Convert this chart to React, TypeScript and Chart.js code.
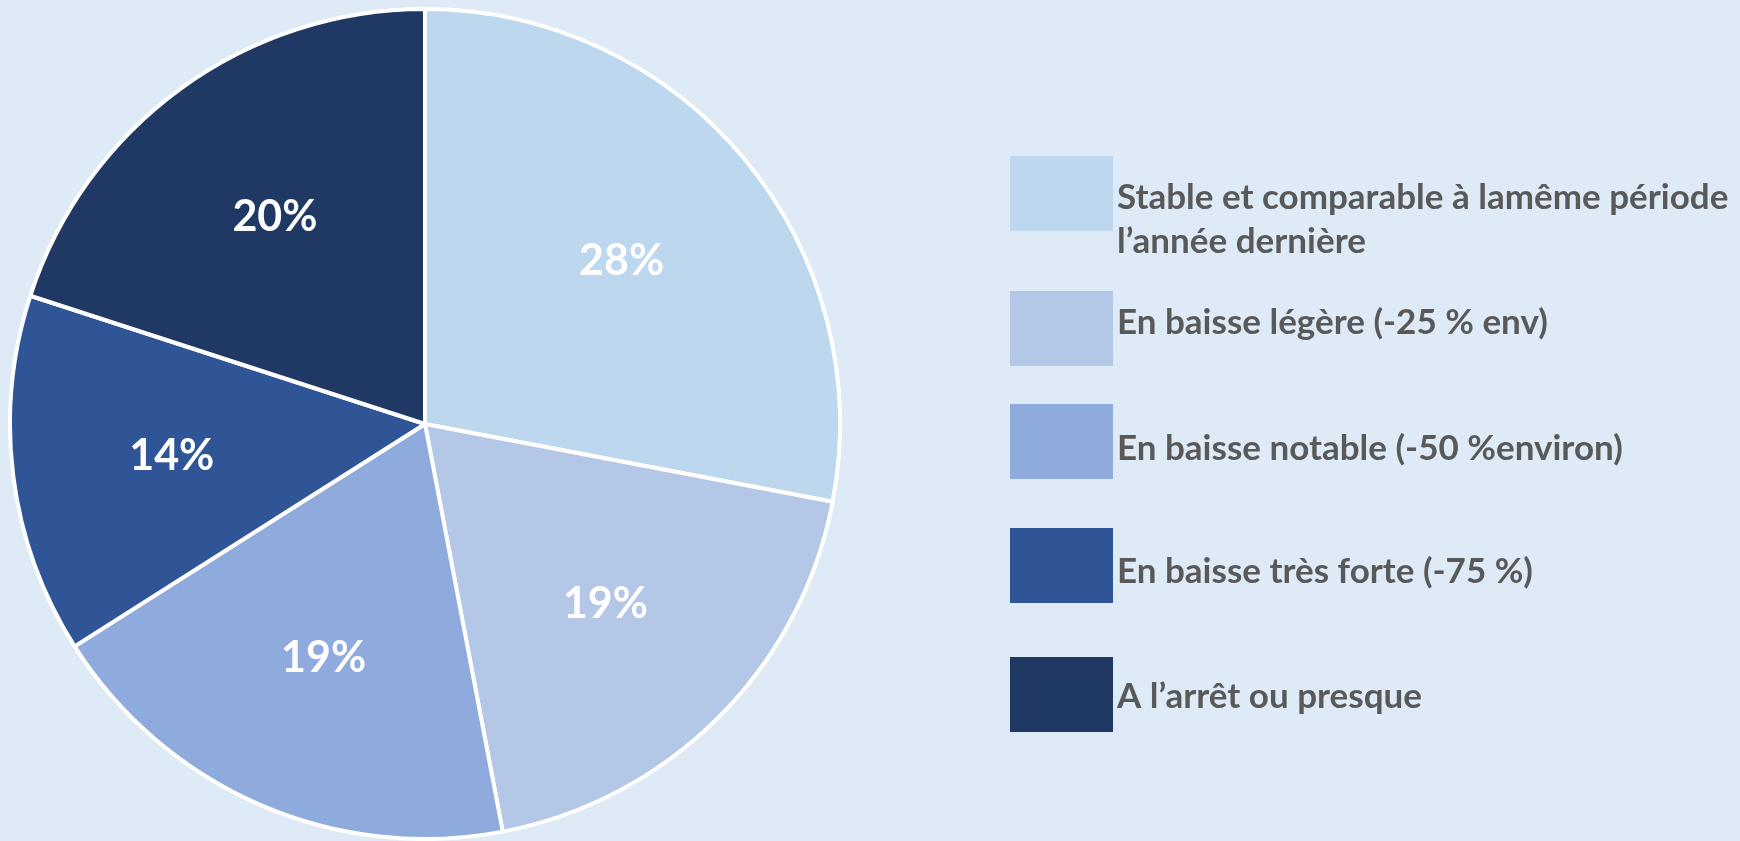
import React, { useEffect, useRef } from "react";
import { Chart, registerables } from "chart.js";

Chart.register(...registerables);

const categories = [
  "Stable et comparable à lamême période l’année dernière",
  "En baisse légère (-25 % env)",
  "En baisse notable (-50 %environ)",
  "En baisse très forte (-75 %)",
  "A l’arrêt ou presque",
];
const values = [28, 19, 19, 14, 20];
const colors = ["#BDD7EE", "#B4C7E7", "#8FAADC", "#2F5597", "#203864"];

const LEGEND_FONT = "bold 35px Lato, 'Open Sans', sans-serif";
const LABEL_FONT = "bold 43px Lato, 'Open Sans', sans-serif";

function wrap(ctx: CanvasRenderingContext2D, text: string, maxW: number): string[] {
  const words = text.split(" ");
  const lines: string[] = [];
  let cur = "";
  for (const w of words) {
    const test = cur ? cur + " " + w : w;
    if (ctx.measureText(test).width > maxW && cur) {
      lines.push(cur);
      cur = w;
    } else cur = test;
  }
  if (cur) lines.push(cur);
  return lines;
}

const customPlugin = {
  id: "customDraw",
  afterDatasetsDraw(chart: any) {
    const ctx: CanvasRenderingContext2D = chart.ctx;
    const meta = chart.getDatasetMeta(0);
    ctx.save();
    // data labels
    ctx.font = LABEL_FONT;
    ctx.fillStyle = "#FFFFFF";
    ctx.textAlign = "center";
    ctx.textBaseline = "middle";
    meta.data.forEach((arc: any, i: number) => {
      const p = arc.getProps(["x", "y", "startAngle", "endAngle", "outerRadius"], true);
      const mid = (p.startAngle + p.endAngle) / 2;
      const r = p.outerRadius * 0.615;
      ctx.fillText(`${values[i]}%`, p.x + Math.cos(mid) * r, p.y + Math.sin(mid) * r);
    });
    // legend
    const boxX = 1010;
    const boxW = 103;
    const boxH = 75;
    const boxTops = [156, 291, 404, 528, 657];
    const baselines = [209, 334, 460, 583, 708];
    const textX = 1117;
    const lineH = 44;
    ctx.font = LEGEND_FONT;
    ctx.textAlign = "left";
    ctx.textBaseline = "alphabetic";
    categories.forEach((cat, i) => {
      ctx.fillStyle = colors[i];
      ctx.fillRect(boxX, boxTops[i], boxW, boxH);
      ctx.fillStyle = "#595959";
      const lines = wrap(ctx, cat, 660);
      lines.forEach((ln, j) => {
        ctx.fillText(ln, textX, baselines[i] + j * lineH);
      });
    });
    ctx.restore();
  },
};

export default function App() {
  const ref = useRef<HTMLCanvasElement | null>(null);
  useEffect(() => {
    if (!ref.current) return;
    const chart = new Chart(ref.current, {
      type: "pie",
      data: {
        labels: categories,
        datasets: [
          {
            data: values,
            backgroundColor: colors,
            borderColor: "#FFFFFF",
            borderWidth: 4,
          },
        ],
      },
      options: {
        animation: false,
        responsive: false,
        devicePixelRatio: 1,
        layout: { padding: { left: 8, top: 7, right: 898, bottom: 0 } },
        plugins: {
          legend: { display: false },
          tooltip: { enabled: false },
        },
      },
      plugins: [customPlugin],
    });
    return () => chart.destroy();
  }, []);
  return (
    <div
      style={{
        position: "fixed",
        left: 0,
        top: 0,
        width: 1740,
        height: 841,
        background: "#DEEBF7",
      }}
    >
      <canvas ref={ref} width={1740} height={841} style={{ display: "block" }} />
    </div>
  );
}
